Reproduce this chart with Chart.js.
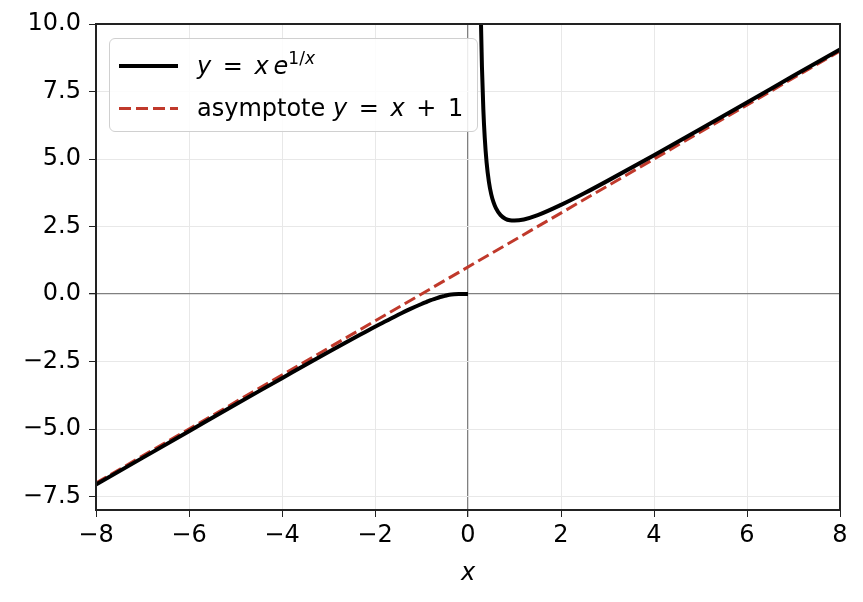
<!DOCTYPE html>
<html>
<head>
<meta charset="utf-8">
<script src="https://cdn.jsdelivr.net/npm/chart.js@4.4.1/dist/chart.umd.min.js"></script>
<style>
  body { margin: 0; background: #fff; }
  #wrap { position: relative; width: 863px; height: 602px; }
  #legend {
    position: absolute; left: 109px; top: 38px; width: 367px; height: 92px;
    border: 1px solid #d0d0d0; border-radius: 6px; background: rgba(255,255,255,0.85);
    font-family: "DejaVu Sans", sans-serif; font-size: 24px; color: #000;
  }
  .row { position: absolute; left: 0; height: 30px; line-height: 30px; white-space: nowrap; }
  .swatch { position: absolute; left: 9px; width: 59px; }
  .lbl { position: absolute; left: 87px; top: 0; }
  .mat { word-spacing: 4px; }
  sup { font-size: 17px; vertical-align: 0; position: relative; top: -10px; }
</style>
</head>
<body>
<div id="wrap">
  <canvas id="grafica"></canvas>
  <div id="legend">
    <div class="row" style="top:12px">
      <div class="swatch" style="top:13px;border-top:4px solid #000"></div>
      <span class="lbl mat"><i>y</i> = <i>x</i>&#8201;<i>e</i><sup>1/<i>x</i></sup></span>
    </div>
    <div class="row" style="top:54px">
      <div class="swatch" style="top:14px;height:3px;background:repeating-linear-gradient(90deg,#c0392b 0 12px,transparent 12px 17px)"></div>
      <span class="lbl">asymptote <span class="mat"><i>y</i> = <i>x</i> + 1</span></span>
    </div>
  </div>
</div>
<script>
// rama izquierda (x < 0)
const izqX = [-8, -7, -6, -5, -4, -3.5, -3, -2.5, -2, -1.75, -1.5, -1.25, -1, -0.9, -0.8, -0.7, -0.6, -0.5, -0.4, -0.3, -0.2, -0.1, 0];
const izqY = [-7.06, -6.07, -5.08, -4.09, -3.12, -2.63, -2.15, -1.68, -1.21, -0.99, -0.77, -0.56, -0.37, -0.30, -0.23, -0.17, -0.11, -0.07, -0.03, -0.01, 0, 0, 0];
// rama derecha (x > 0)
const derX = [0.22, 0.25, 0.28, 0.3, 0.33, 0.36, 0.4, 0.45, 0.5, 0.55, 0.6, 0.7, 0.8, 0.9, 1, 1.2, 1.5, 2, 2.5, 3, 4, 5, 6, 7, 8];
const derY = [20.7, 13.65, 9.96, 8.41, 6.83, 5.79, 4.87, 4.15, 3.69, 3.39, 3.18, 2.92, 2.79, 2.73, 2.72, 2.76, 2.92, 3.30, 3.73, 4.19, 5.14, 6.11, 7.09, 8.08, 9.06];
// asintota y = x + 1
const asinX = [-8, 8];
const asinY = [-7, 9];

const ticksX = [-8, -6, -4, -2, 0, 2, 4, 6, 8];
const ticksY = [-7.5, -5, -2.5, 0, 2.5, 5, 7.5, 10];

const puntos = (xs, ys) => xs.map((x, i) => ({ x: x, y: ys[i] }));
const fuente = { family: 'DejaVu Sans', size: 24 };

// marco completo alrededor del area
const marco = {
  id: 'marco',
  afterDraw(chart) {
    const a = chart.chartArea, c = chart.ctx;
    c.save();
    c.strokeStyle = '#222';
    c.lineWidth = 2;
    c.strokeRect(a.left, a.top, a.right - a.left, a.bottom - a.top);
    c.restore();
  }
};

const ctx = document.getElementById('grafica').getContext('2d');
new Chart(ctx, {
  type: 'line',
  data: {
    datasets: [
      { label: 'izq', data: puntos(izqX, izqY), borderColor: '#000', borderWidth: 4, pointRadius: 0, cubicInterpolationMode: 'monotone' },
      { label: 'der', data: puntos(derX, derY), borderColor: '#000', borderWidth: 4, pointRadius: 0, cubicInterpolationMode: 'monotone' },
      { label: 'asintota', data: puntos(asinX, asinY), borderColor: '#c0392b', borderWidth: 3, borderDash: [12, 5], pointRadius: 0 }
    ]
  },
  options: {
    responsive: true,
    maintainAspectRatio: false,
    animation: false,
    layout: { padding: { top: 24, right: 23, left: 0, bottom: 0 } },
    plugins: { legend: { display: false }, tooltip: { enabled: false } },
    scales: {
      x: {
        type: 'linear', min: -8, max: 8,
        afterBuildTicks: s => { s.ticks = ticksX.map(v => ({ value: v })); },
        afterFit: s => { s.height = 92; },
        ticks: { font: fuente, color: '#000', padding: 4, callback: v => String(v).replace('-', '\u2212') },
        grid: {
          color: c => c.tick && c.tick.value === 0 ? '#808080' : '#e8e8e8',
          lineWidth: c => c.tick && c.tick.value === 0 ? 1.3 : 1,
          tickColor: '#222', tickLength: 7
        },
        border: { color: '#222', width: 2 },
        title: { display: true, text: 'x', color: '#000', font: { family: 'DejaVu Sans', size: 24, style: 'italic' }, padding: { top: 0, bottom: 14 } }
      },
      y: {
        type: 'linear', min: -8, max: 10,
        afterBuildTicks: s => { s.ticks = ticksY.map(v => ({ value: v })); },
        afterFit: s => { s.width = 96; },
        ticks: { font: fuente, color: '#000', padding: 8, callback: v => v.toFixed(1).replace('-', '\u2212') },
        grid: {
          color: c => c.tick && c.tick.value === 0 ? '#808080' : '#e8e8e8',
          lineWidth: c => c.tick && c.tick.value === 0 ? 1.3 : 1,
          tickColor: '#222', tickLength: 7
        },
        border: { color: '#222', width: 2 }
      }
    }
  },
  plugins: [marco]
});
</script>
</body>
</html>
